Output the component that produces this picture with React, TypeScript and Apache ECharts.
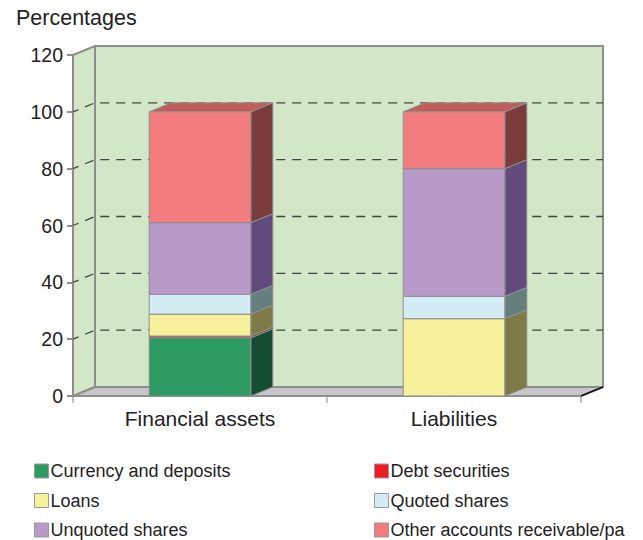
import React, { useEffect, useRef } from "react";
import * as echarts from "echarts";

const CATEGORIES = ["Financial assets", "Liabilities"];
const SERIES_NAMES = [
  "Currency and deposits",
  "Debt securities",
  "Loans",
  "Quoted shares",
  "Unquoted shares",
  "Other accounts receivable/pa",
];
const CURRENCY = [20.5, 0];
const DEBT = [0.6, 0];
const LOANS = [7.7, 27.2];
const QUOTED = [7.0, 7.9];
const UNQUOTED = [25.2, 44.9];
const OTHER = [39.0, 20.0];
const GRID_VALUES = [20, 40, 60, 80, 100];
const Y_MIN = 0;
const Y_MAX = 120;
const Y_STEP = 20;

const SERIES_VALUES = [CURRENCY, DEBT, LOANS, QUOTED, UNQUOTED, OTHER];

const FRONT = ["#2e9a63", "#ee1c25", "#f6f29b", "#d4edf4", "#b79ac8", "#f27c7e"];
const SIDE = ["#164c32", "#8e1b1b", "#7e7b48", "#647f7e", "#624a7c", "#7b3c3e"];
const TOP = ["#237a4e", "#c01a1e", "#c8c47c", "#a9c3c9", "#947ba4", "#c15e5c"];

const DX = 22;
const DY = -9;
const EDGE = "#8e8e8e";
const WALL = "#d1e7c7";
const FLOOR = "#c6c6c8";
const FONT = "'Liberation Sans', Arial, sans-serif";

export default function App() {
  const ref = useRef<HTMLDivElement>(null);

  useEffect(() => {
    if (!ref.current) return;
    const chart = echarts.init(ref.current, undefined, { renderer: "svg" });

    const bases = CATEGORIES.map(() => 0);
    const barSeries = SERIES_VALUES.map((vals, i) => {
      const data = CATEGORIES.map((_, j) => {
        const lo = bases[j];
        const hi = lo + vals[j];
        bases[j] = hi;
        return [j, lo, hi];
      });
      return {
        type: "custom",
        name: SERIES_NAMES[i],
        z: 3,
        clip: false,
        itemStyle: { color: FRONT[i], borderColor: EDGE, borderWidth: 1 },
        encode: { x: 0, y: 2 },
        data,
        renderItem: (params: any, api: any) => {
          const j = api.value(0);
          const lo = api.value(1);
          const hi = api.value(2);
          if (hi - lo <= 0) return null;
          const b = api.coord([j, lo]);
          const t = api.coord([j, hi]);
          const bw = api.size([1, 0])[0] * 0.4;
          const xl = b[0] - bw / 2;
          const xr = b[0] + bw / 2;
          const yb = b[1];
          const yt = t[1];
          return {
            type: "group",
            children: [
              {
                type: "polygon",
                shape: { points: [[xr, yb], [xr + DX, yb + DY], [xr + DX, yt + DY], [xr, yt]] },
                style: { fill: SIDE[i], stroke: EDGE, lineWidth: 1 },
              },
              {
                type: "polygon",
                shape: { points: [[xl, yt], [xr, yt], [xr + DX, yt + DY], [xl + DX, yt + DY]] },
                style: { fill: TOP[i], stroke: EDGE, lineWidth: 1 },
              },
              {
                type: "rect",
                shape: { x: xl, y: yt, width: xr - xl, height: yb - yt },
                style: { fill: FRONT[i], stroke: EDGE, lineWidth: 1 },
              },
            ],
          };
        },
      };
    });

    const wallSeries = {
      type: "custom",
      name: "walls",
      z: 1,
      clip: false,
      silent: true,
      encode: { x: 0, y: 1 },
      data: [[0, 0]],
      renderItem: (params: any, api: any) => {
        const cs = params.coordSys;
        const x0 = cs.x;
        const x1 = cs.x + cs.width;
        const yTop = api.coord([0, Y_MAX])[1];
        const yBot = api.coord([0, Y_MIN])[1];
        const children: any[] = [
          {
            type: "polygon",
            shape: { points: [[x0 + DX, yTop + DY], [x1 + DX, yTop + DY], [x1 + DX, yBot + DY], [x0 + DX, yBot + DY]] },
            style: { fill: WALL, stroke: EDGE, lineWidth: 2 },
          },
          {
            type: "polygon",
            shape: { points: [[x0, yBot], [x0, yTop], [x0 + DX, yTop + DY], [x0 + DX, yBot + DY]] },
            style: { fill: WALL, stroke: EDGE, lineWidth: 2 },
          },
          {
            type: "polygon",
            shape: { points: [[x0, yBot], [x1, yBot], [x1 + DX, yBot + DY], [x0 + DX, yBot + DY]] },
            style: { fill: FLOOR, stroke: EDGE, lineWidth: 2 },
          },
          {
            type: "line",
            shape: { x1: x1, y1: yBot, x2: x1 + DX, y2: yBot + DY },
            style: { stroke: "#111", lineWidth: 1.5 },
          },
        ];
        GRID_VALUES.forEach((v) => {
          const y = api.coord([0, v])[1];
          children.push({
            type: "polyline",
            shape: { points: [[x0, y], [x0 + DX, y + DY], [x1 + DX, y + DY]] },
            style: { stroke: "#444", lineWidth: 1.3, lineDash: [9, 7], lineDashOffset: 3, fill: null },
          });
        });
        return { type: "group", children };
      },
    };

    const legendText = { fontSize: 18, color: "#222", lineHeight: 18, fontFamily: FONT, padding: [0, 0, 0, -3] };

    chart.setOption({
      animation: false,
      backgroundColor: "#ffffff",
      textStyle: { fontFamily: FONT },
      title: {
        text: "Percentages",
        left: 16,
        top: 7,
        padding: 0,
        textStyle: { fontSize: 21.5, fontWeight: "normal", color: "#222", fontFamily: FONT },
      },
      grid: { left: 73, top: 55, width: 508, height: 341, containLabel: false },
      xAxis: {
        type: "category",
        data: CATEGORIES,
        axisLine: { lineStyle: { color: EDGE, width: 2 } },
        axisTick: { show: true, length: 7, lineStyle: { color: "#aaa", width: 1.5 } },
        axisLabel: { fontSize: 21, color: "#222", margin: 12, fontFamily: FONT },
        splitLine: { show: false },
      },
      yAxis: {
        type: "value",
        min: Y_MIN,
        max: Y_MAX,
        interval: Y_STEP,
        axisLine: { show: true, lineStyle: { color: EDGE, width: 2 } },
        axisTick: { show: true, length: 6, lineStyle: { color: EDGE, width: 2 } },
        axisLabel: { fontSize: 19.5, color: "#222", margin: 10, fontFamily: FONT },
        splitLine: { show: false },
      },
      legend: [
        {
          data: [SERIES_NAMES[0], SERIES_NAMES[2], SERIES_NAMES[4]],
          orient: "vertical",
          left: 34,
          top: 462,
          padding: 0,
          itemWidth: 14,
          itemHeight: 14,
          itemGap: 11.5,
          icon: "rect",
          itemStyle: { borderColor: "#999", borderWidth: 1 },
          textStyle: legendText,
          selectedMode: false,
        },
        {
          data: [SERIES_NAMES[1], SERIES_NAMES[3], SERIES_NAMES[5]],
          orient: "vertical",
          left: 374,
          top: 462,
          padding: 0,
          itemWidth: 14,
          itemHeight: 14,
          itemGap: 11.5,
          icon: "rect",
          itemStyle: { borderColor: "#999", borderWidth: 1 },
          textStyle: legendText,
          selectedMode: false,
        },
      ],
      series: [wallSeries, ...barSeries],
    });

    return () => chart.dispose();
  }, []);

  return (
    <div
      ref={ref}
      style={{ position: "absolute", left: 0, top: 0, width: 643, height: 540, overflow: "hidden" }}
    />
  );
}
